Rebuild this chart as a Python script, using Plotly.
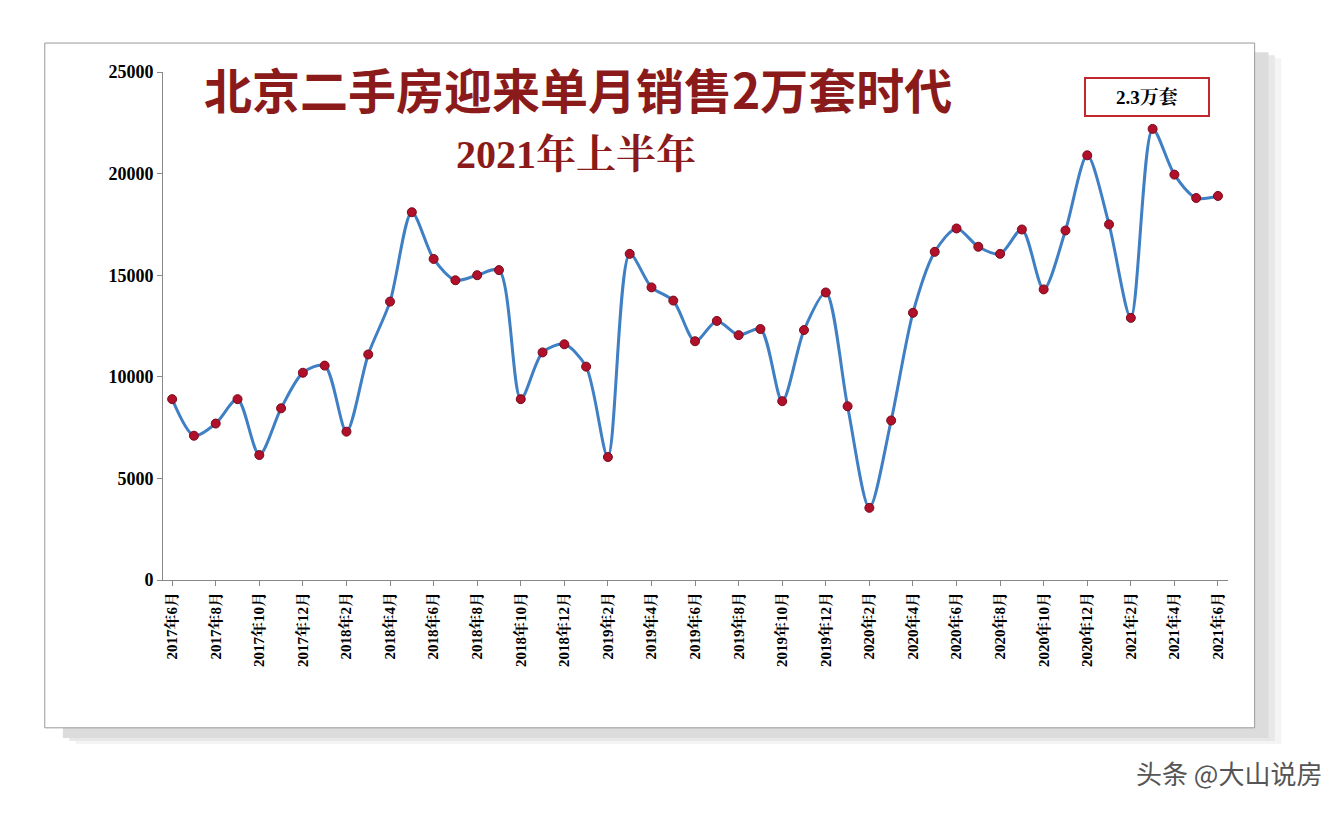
import plotly.graph_objects as go

months = [f"{y}年{m}月" for y in range(2017, 2022) for m in range(1, 13)]
months = months[5:54]  # 2017年6月 .. 2021年6月

sales = [8900, 7100, 7700, 8900, 6150, 8450, 10200, 10550, 7300, 11100,
         13700, 18100, 15800, 14750, 15000, 15250, 8900, 11200, 11600, 10500,
         6050, 16050, 14400, 13750, 11750, 12750, 12050, 12350, 8800, 12300,
         14150, 8550, 3550, 7850, 13150, 16150, 17300, 16400, 16050, 17250,
         14300, 17200, 20900, 17500, 12900, 22200, 19950, 18800, 18900]

idx = list(range(len(months)))
tick_idx = idx[::2]
tick_text = [f"<b>{t}</b>" for t in months[::2]]

serif = "Liberation Serif, Noto Serif CJK SC, Noto Sans CJK SC"
red = "#8b1a1a"

fig = go.Figure()
fig.add_trace(go.Scatter(
    x=idx, y=sales, mode="lines+markers",
    line=dict(color="#3f7fc4", width=3, shape="spline", smoothing=0.8),
    marker=dict(color="#b0102a", size=9, line=dict(color="#7a0a1a", width=1)),
    hoverinfo="x+y",
))

fig.update_layout(
    width=1340, height=816,
    margin=dict(l=155, r=120, t=64, b=244),
    paper_bgcolor="white", plot_bgcolor="white",
    showlegend=False,
    font=dict(family=serif, color="black"),
)
fig.update_xaxes(
    range=[-0.42, 48.46], tickvals=tick_idx, ticktext=tick_text,
    tickangle=-90, tickfont=dict(size=15, family=serif, color="black"),
    showgrid=False, showline=True, linecolor="#888", ticks="outside",
    ticklen=5, tickcolor="#888", zeroline=False,
)
fig.update_yaxes(
    range=[0, 25000],
    tickvals=[0, 5000, 10000, 15000, 20000, 25000],
    ticktext=["<b>0</b>", "<b>5000</b>", "<b>10000</b>", "<b>15000</b>", "<b>20000</b>", "<b>25000</b>"],
    tickfont=dict(size=18, family=serif, color="black"),
    showgrid=False, showline=True, linecolor="#888", ticks="outside",
    ticklen=5, tickcolor="#888", zeroline=False,
)

# outer frame with soft shadow
for i, c in enumerate(["#f4f4f4", "#e8e8e8", "#dcdcdc"]):
    d = (3 - i) * 0.006
    fig.add_shape(type="rect", xref="paper", yref="paper",
                  x0=-0.1 + d, x1=1.032 + d, y0=-0.305 - d, y1=1.045 - d,
                  line=dict(width=0), fillcolor=c, layer="below")
fig.add_shape(type="rect", xref="paper", yref="paper",
              x0=-0.111, x1=1.025, y0=-0.291, y1=1.057,
              line=dict(color="#999", width=1), fillcolor="white", layer="below")

common = dict(xref="paper", yref="paper", showarrow=False,
              xanchor="center", yanchor="middle")
fig.add_annotation(text="<b>北京二手房迎来单月销售2万套时代</b>", x=0.39, y=0.968,
                   font=dict(size=48, color=red, family="Noto Sans CJK SC"), **common)
fig.add_annotation(text="<b>2021年上半年</b>", x=0.388, y=0.837,
                   font=dict(size=40, color=red, family=serif), **common)
fig.add_annotation(text="<b>2.3万套</b>", x=0.924, y=0.951,
                   width=118, height=32, borderpad=2,
                   bordercolor="#c0282d", borderwidth=2, bgcolor="white",
                   font=dict(size=19, color="black", family=serif), **common)
fig.add_annotation(text="头条 @大山说房", xref="paper", yref="paper",
                   x=1.09, y=-0.378, showarrow=False, xanchor="right", yanchor="middle",
                   font=dict(size=26, color="#555", family="Noto Sans CJK SC"))

fig.write_html("out.html")
